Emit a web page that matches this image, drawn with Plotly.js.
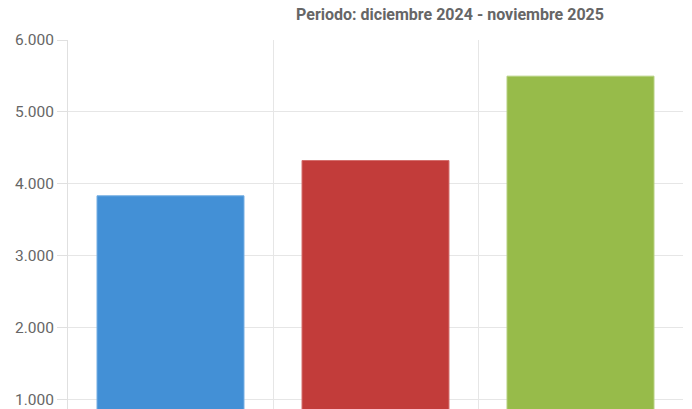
<!DOCTYPE html>
<html>
<head>
<meta charset="utf-8">
<script src="https://cdn.plot.ly/plotly-3.0.1.min.js"></script>
<style>html,body{margin:0;padding:0;background:#fff;overflow:hidden;}
#wrap{width:692px;height:409px;overflow:hidden;}</style>
</head>
<body>
<div id="wrap"><div id="chart" style="width:692px;height:440px;"></div></div>
<script>
const categories = ["Serie 1", "Serie 2", "Serie 3"];
const values = [3833, 4324, 5497];
const barColors = ["#4390d6", "#c23c3a", "#97bb4a"];
const borderColors = ["#74aee3", "#d46f6d", "#b5d07f"];
const yTicks = [1000, 2000, 3000, 4000, 5000, 6000];
const titleText = "Periodo: diciembre 2024 - noviembre 2025";

const fontFam = "Roboto, 'Liberation Sans', sans-serif";

const trace = {
  type: "bar",
  x: categories,
  y: values,
  marker: {color: barColors, line: {color: borderColors, width: 1}},
  hoverinfo: "none"
};

const layout = {
  width: 692,
  height: 440,
  margin: {l: 68, r: 9, t: 40, b: 31, pad: 0},
  paper_bgcolor: "#ffffff",
  plot_bgcolor: "#ffffff",
  separators: ",.",
  showlegend: false,
  bargap: 0.283,
  title: {
    text: "<b>" + titleText + "</b>",
    font: {family: fontFam, size: 16, color: "#666666"},
    x: 450 / 692, xref: "container", xanchor: "center",
    y: 1 - 14 / 440, yref: "container", yanchor: "middle"
  },
  xaxis: {
    type: "category",
    range: [-0.5, 2.5],
    tickson: "boundaries",
    showgrid: true,
    gridcolor: "#e6e6e6",
    gridwidth: 1,
    showticklabels: false,
    ticks: "",
    showline: false,
    zeroline: false,
    fixedrange: true
  },
  yaxis: {
    range: [868, 6000],
    tickvals: yTicks,
    tickformat: ",d",
    showgrid: true,
    gridcolor: "#e6e6e6",
    gridwidth: 1,
    ticks: "outside",
    ticklen: 10,
    tickcolor: "#e0e0e0",
    showline: true,
    linecolor: "#e0e0e0",
    linewidth: 1,
    zeroline: false,
    tickfont: {family: fontFam, size: 15.5, color: "#666666"},
    fixedrange: true
  }
};

Plotly.newPlot("chart", [trace], layout, {displayModeBar: false, staticPlot: true});
</script>
</body>
</html>
